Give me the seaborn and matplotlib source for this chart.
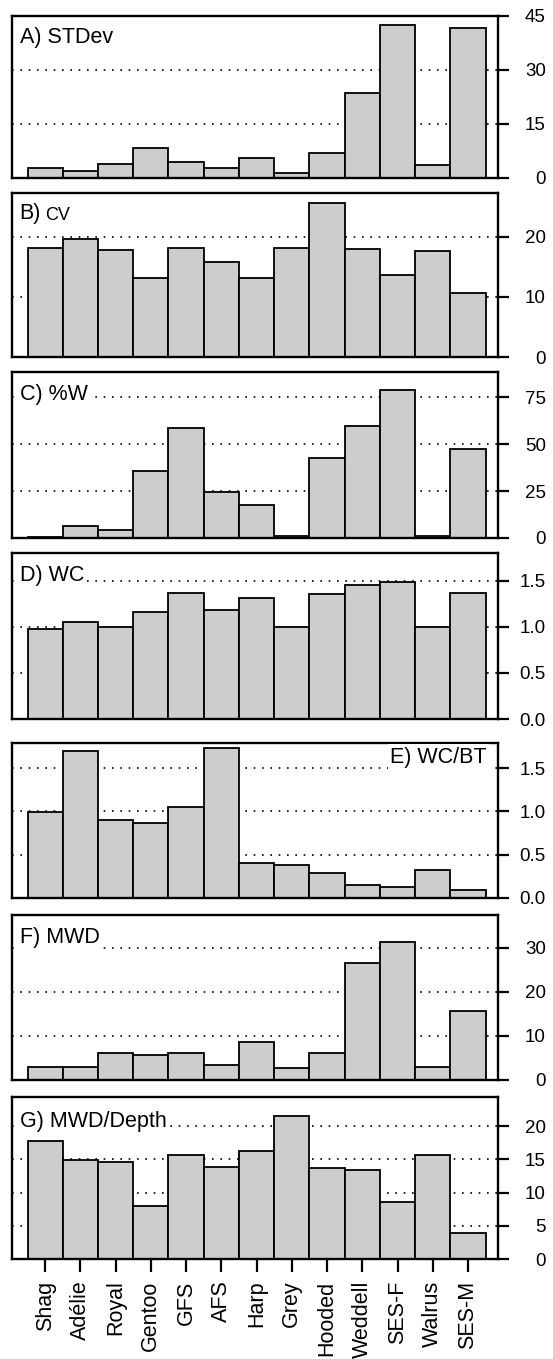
import matplotlib
matplotlib.use("Agg")
import matplotlib.pyplot as plt
import seaborn as sns
import pandas as pd

# ---------------- data ----------------
species = ["Shag", "Adélie", "Royal", "Gentoo", "GFS", "AFS", "Harp", "Grey",
           "Hooded", "Weddell", "SES-F", "Walrus", "SES-M"]

stdev = [2.7, 2.0, 4.0, 8.4, 4.5, 2.7, 5.6, 1.5, 7.0, 23.7, 42.4, 3.6, 41.6]
cv = [18.2, 19.6, 17.8, 13.2, 18.2, 15.8, 13.1, 18.2, 25.7, 17.9, 13.6, 17.6, 10.7]
pct_w = [0.3, 6.4, 4.5, 35.5, 58.5, 24.5, 17.4, 1.0, 42.7, 59.4, 78.6, 0.8, 47.2]
wc = [0.98, 1.05, 1.00, 1.16, 1.37, 1.18, 1.31, 1.00, 1.36, 1.45, 1.49, 1.00, 1.37]
wc_bt = [0.99, 1.70, 0.90, 0.865, 1.05, 1.73, 0.40, 0.385, 0.29, 0.15, 0.127, 0.32, 0.088]
mwd = [2.9, 3.0, 6.1, 5.6, 6.2, 3.4, 8.6, 2.7, 6.1, 26.5, 31.4, 2.9, 15.7]
mwd_depth = [17.8, 14.9, 14.6, 8.0, 15.6, 13.9, 16.3, 21.6, 13.7, 13.4, 8.6, 15.7, 3.9]

titles = ["A) STDev", "B)", "C) %W", "D) WC", "E) WC/BT", "F) MWD", "G) MWD/Depth"]
series = [stdev, cv, pct_w, wc, wc_bt, mwd, mwd_depth]
yticks = [[0, 15, 30, 45], [0, 10, 20], [0, 25, 50, 75], [0, 0.5, 1.0, 1.5],
          [0, 0.5, 1.0, 1.5], [0, 10, 20, 30], [0, 5, 10, 15, 20]]
yticklabels = [["0", "15", "30", "45"], ["0", "10", "20"], ["0", "25", "50", "75"],
               ["0.0", "0.5", "1.0", "1.5"], ["0.0", "0.5", "1.0", "1.5"],
               ["0", "10", "20", "30"], ["0", "5", "10", "15", "20"]]
ytops = [45, 27.3, 88.3, 1.80, 1.79, 37.5, 24.4]

# ---------------- style ----------------
sns.set_style("white")
plt.rcParams["font.family"] = ["Liberation Sans", "DejaVu Sans"]
plt.rcParams["text.color"] = "black"
plt.rcParams["axes.labelcolor"] = "black"
plt.rcParams["xtick.color"] = "black"
plt.rcParams["ytick.color"] = "black"
plt.rcParams["axes.edgecolor"] = "black"

W, H = 553, 1359
fig = plt.figure(figsize=(W / 100, H / 100), dpi=100)

tops = [16, 193, 372, 553, 743, 915, 1097]
bots = [178, 357, 538, 719, 898, 1080, 1259]
label_off = [19, 19, 21, 20, 12, 20, 23]  # px below top (text centre)
left_px, right_px = 12, 498
fill = "#cdcdcd"

for i in range(7):
    top, bot = tops[i], bots[i]
    ax = fig.add_axes([left_px / W, 1 - bot / H, (right_px - left_px) / W, (bot - top) / H])
    df = pd.DataFrame({"species": species, "value": series[i]})
    sns.barplot(data=df, x="species", y="value", ax=ax, color=fill, saturation=1,
                edgecolor="black", linewidth=1.3, width=1.0)
    ax.set_xlim(-0.94, 12.85)
    ax.set_ylim(0, ytops[i])
    ax.set_xlabel("")
    ax.set_ylabel("")
    for s in ax.spines.values():
        s.set_visible(True)
        s.set_linewidth(1.7)
        s.set_color("black")

    ax.set_axisbelow(True)
    ax.yaxis.tick_right()
    ax.set_yticks(yticks[i])
    ax.set_yticklabels(yticklabels[i])
    ax.tick_params(axis="y", which="major", direction="out", length=8, width=1.6,
                   pad=26.5, labelsize=13.5, right=True, left=False,
                   labelright=True, labelleft=False, colors="black")
    for lab in ax.get_yticklabels():
        lab.set_horizontalalignment("right")
        lab.set_color("black")
    ax.yaxis.grid(True, color="black", linewidth=1.2, linestyle=(0, (1, 4)))
    ax.xaxis.grid(False)

    if i < 6:
        ax.tick_params(axis="x", bottom=False, labelbottom=False)
    else:
        ax.tick_params(axis="x", bottom=True, direction="out", length=9.5, width=1.6,
                       pad=6, labelsize=15.5, labelrotation=90, colors="black")

    off_pt = (label_off[i] + 2) * 0.72
    bb = dict(facecolor="white", edgecolor="none", pad=1.5)
    if i == 4:
        ax.annotate(titles[i], xy=(1, 1), xycoords="axes fraction",
                    xytext=(-8, -off_pt), textcoords="offset points",
                    ha="right", va="center", fontsize=15.5, color="black",
                    bbox=bb, zorder=5)
    else:
        t = ax.annotate(titles[i], xy=(0, 1), xycoords="axes fraction",
                        xytext=(5.5, -off_pt), textcoords="offset points",
                        ha="left", va="center", fontsize=15.5, color="black",
                        bbox=bb, zorder=5)
        if i == 1:
            ax.annotate("CV", xy=(1, 0), xycoords=t, xytext=(3, 0.5),
                        textcoords="offset points", ha="left", va="bottom",
                        fontsize=13, color="black", zorder=5)

fig.savefig("out.png", dpi=100)
